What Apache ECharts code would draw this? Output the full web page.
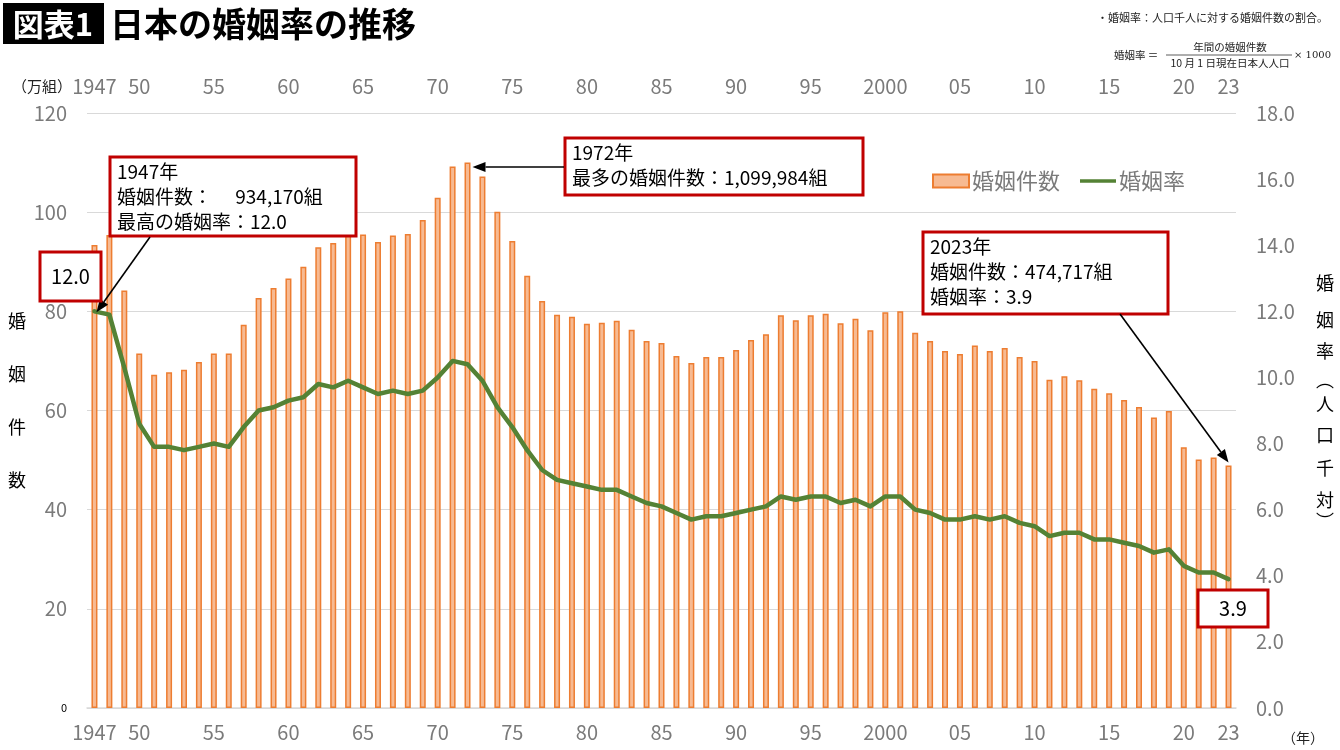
<!DOCTYPE html>
<html><head><meta charset="utf-8">
<script src="https://cdn.jsdelivr.net/npm/echarts@6.0.0/dist/echarts.min.js"></script>
<style>html,body{margin:0;padding:0;background:#fff}#c{width:1340px;height:750px}</style>
</head><body><div id="c"></div>
<script>
const years = ['1947','1948','1949','1950','1951','1952','1953','1954','1955','1956','1957','1958','1959',
'1960','1961','1962','1963','1964','1965','1966','1967','1968','1969',
'1970','1971','1972','1973','1974','1975','1976','1977','1978','1979',
'1980','1981','1982','1983','1984','1985','1986','1987','1988','1989',
'1990','1991','1992','1993','1994','1995','1996','1997','1998','1999',
'2000','2001','2002','2003','2004','2005','2006','2007','2008','2009',
'2010','2011','2012','2013','2014','2015','2016','2017','2018','2019',
'2020','2021','2022','2023'];
// 婚姻件数（万組）
const marriages = [93.4,95.4,84.2,71.5,67.2,67.7,68.2,69.8,71.5,71.5,77.3,82.7,84.7,
86.6,89.0,92.9,93.8,96.3,95.5,94.0,95.3,95.6,98.4,
102.9,109.2,110.0,107.2,100.1,94.2,87.2,82.1,79.3,78.9,
77.5,77.7,78.1,76.3,74.0,73.6,71.0,69.6,70.8,70.8,
72.2,74.2,75.4,79.2,78.2,79.2,79.5,77.6,78.5,76.2,
79.8,80.0,75.7,74.0,72.0,71.4,73.1,72.0,72.6,70.8,
70.0,66.2,66.9,66.1,64.4,63.5,62.1,60.7,58.6,59.9,
52.6,50.1,50.5,48.9];
// 婚姻率（人口千対）
const rates = [12.0,11.9,10.3,8.6,7.9,7.9,7.8,7.9,8.0,7.9,8.5,9.0,9.1,
9.3,9.4,9.8,9.7,9.9,9.7,9.5,9.6,9.5,9.6,
10.0,10.5,10.4,9.9,9.1,8.5,7.8,7.2,6.9,6.8,
6.7,6.6,6.6,6.4,6.2,6.1,5.9,5.7,5.8,5.8,
5.9,6.0,6.1,6.4,6.3,6.4,6.4,6.2,6.3,6.1,
6.4,6.4,6.0,5.9,5.7,5.7,5.8,5.7,5.8,5.6,
5.5,5.2,5.3,5.3,5.1,5.1,5.0,4.9,4.7,4.8,
4.3,4.1,4.1,3.9];
const tickYears = ['1947','1950','1955','1960','1965','1970','1975','1980','1985','1990','1995','2000','2005','2010','2015','2020','2023'];
const tickLabels = ['1947','50','55','60','65','70','75','80','85','90','95','2000','05','10','15','20','23'];
const leftTicks = [0,20,40,60,80,100,120];
const rightTicks = [0,2,4,6,8,10,12,14,16,18];

const FONT = '"Noto Sans CJK JP", "Noto Sans", sans-serif';
const GREY = '#7a7a7a';

const xLabel = {
  interval: (i, v) => tickYears.includes(v),
  formatter: v => tickLabels[tickYears.indexOf(v)],
  color: GREY, fontSize: 20, fontFamily: FONT
};

const option = {
  animation: false,
  backgroundColor: '#fff',
  textStyle: {fontFamily: FONT},
  grid: {left: 87, right: 104, top: 113, bottom: 42},
  legend: {
    left: 927, top: 165, itemGap: 20, itemWidth: 36, itemHeight: 13,
    textStyle: {color: GREY, fontSize: 22, fontFamily: FONT, padding: [0,0,0,-2]},
    data: [
      {name: '婚姻件数', icon: 'rect'},
      {name: '婚姻率', icon: 'path://M0,0L0,0M0,4.6H40V8.4H0ZM40,13L40,13',
       itemStyle: {color: '#548235', borderWidth: 0}}
    ]
  },
  xAxis: [
    {type: 'category', data: years, position: 'bottom',
     axisTick: {show: false},
     axisLine: {lineStyle: {color: '#D9D9D9', width: 1.5}},
     axisLabel: Object.assign({margin: 14}, xLabel)},
    {type: 'category', data: years, position: 'top',
     axisTick: {show: false}, axisLine: {show: false},
     axisLabel: Object.assign({margin: 17}, xLabel)}
  ],
  yAxis: [
    {type: 'value', min: leftTicks[0], max: leftTicks[leftTicks.length-1], interval: 20,
     axisLine: {show: false}, axisTick: {show: false},
     splitLine: {lineStyle: {color: '#D9D9D9', width: 1.2}},
     axisLabel: {margin: 20, color: GREY, fontSize: 20, fontFamily: FONT,
       formatter: v => v === 0 ? '{s|0}' : String(v),
       rich: {s: {fontSize: 11, color: '#000', fontFamily: FONT}}}},
    {type: 'value', min: rightTicks[0], max: rightTicks[rightTicks.length-1], interval: 2,
     position: 'right', splitLine: {show: false},
     axisLine: {show: false}, axisTick: {show: false},
     axisLabel: {margin: 20, color: GREY, fontSize: 20, fontFamily: FONT,
       formatter: v => v.toFixed(1)}}
  ],
  series: [
    {name: '婚姻件数', type: 'bar', xAxisIndex: 0, yAxisIndex: 0, data: marriages,
     barWidth: 6,
     itemStyle: {color: '#F7BA92', borderColor: '#ED7D31', borderWidth: 1.5}},
    {name: '婚姻率', type: 'line', xAxisIndex: 0, yAxisIndex: 1, data: rates,
     symbol: 'none', z: 5,
     lineStyle: {color: '#548235', width: 4.5, join: 'round', cap: 'round'},
     itemStyle: {color: '#548235'}}
  ]
};

const chart = echarts.init(document.getElementById('c'));
chart.setOption(option);

function arrow(x1, y1, x2, y2) {
  const a = Math.atan2(y2 - y1, x2 - x1);
  const L = 13, W = 5;
  const bx = x2 - L * Math.cos(a), by = y2 - L * Math.sin(a);
  const px = -Math.sin(a) * W, py = Math.cos(a) * W;
  return [
    {type: 'line', z: 100, shape: {x1: x1, y1: y1, x2: bx, y2: by}, style: {stroke: '#000', lineWidth: 1.6}},
    {type: 'polygon', z: 100, shape: {points: [[x2, y2], [bx + px, by + py], [bx - px, by - py]]}, style: {fill: '#000'}}
  ];
}
function box(x, y, w, h, text, center) {
  const els = [{type: 'rect', z: 100, shape: {x: x, y: y, width: w, height: h},
    style: {fill: '#fff', stroke: '#C00000', lineWidth: 3}}];
  if (center) {
    els.push({type: 'text', z: 101, x: x + w / 2, y: y + h / 2,
      style: {text: text, fill: '#000', font: '20px ' + FONT, align: 'center', verticalAlign: 'middle'}});
  } else {
    els.push({type: 'text', z: 101, x: x + 7, y: y + 2,
      style: {text: text, fill: '#000', font: '19px ' + FONT, lineHeight: 25, verticalAlign: 'top'}});
  }
  return els;
}
function txt(x, y, s, font, fill, align, vAlign) {
  return {type: 'text', z: 100, x: x, y: y,
    style: {text: s, font: font, fill: fill || '#000', align: align || 'left', verticalAlign: vAlign || 'middle'}};
}

const pRate47 = chart.convertToPixel({seriesIndex: 1}, [years[0], rates[0]]);
const pBar72 = chart.convertToPixel({seriesIndex: 0}, ['1972', marriages[years.indexOf('1972')]]);
const pBar23 = chart.convertToPixel({seriesIndex: 0}, ['2023', marriages[years.indexOf('2023')]]);

const SERIF = '"DejaVu Serif", "Noto Sans CJK JP", serif';
const graphics = [].concat(
  // title
  [{type: 'rect', z: 100, shape: {x: 3, y: 3, width: 101, height: 41}, style: {fill: '#000'}}],
  [txt(53, 24, '図表1', 'bold 31px ' + FONT, '#fff', 'center')],
  [txt(110, 24, '日本の婚姻率の推移', 'bold 34px ' + FONT, '#000')],
  // note & formula
  [txt(1097, 18, '・婚姻率：人口千人に対する婚姻件数の割合。', '11px ' + FONT, '#222')],
  [txt(1114, 55, '婚姻率 ＝', '10.5px ' + FONT, '#222')],
  [txt(1230, 47, '年間の婚姻件数', '10.5px ' + FONT, '#222', 'center')],
  [{type: 'line', z: 100, shape: {x1: 1166, y1: 55, x2: 1292, y2: 55}, style: {stroke: '#333', lineWidth: 0.8}}],
  [txt(1230, 63, '10 月 1 日現在日本人人口', '10.5px ' + FONT, '#222', 'center')],
  [txt(1294, 55, '× 1000', '10px ' + SERIF, '#222')],
  // axis units
  [txt(12, 86, '（万組）', '15px ' + FONT, '#222')],
  [txt(1282, 738, '（年）', '14px ' + FONT, '#222')],
  // left axis name (vertical)
  [{type: 'text', z: 100, x: 17, y: 295, style: {text: '婚\n姻\n件\n数', font: '18px ' + FONT, fill: '#000', align: 'center', verticalAlign: 'top', lineHeight: 53}}],
  // right axis name (vertical)
  [['婚', 283], ['姻', 320], ['率', 351], ['︵', 380], ['人', 404], ['口', 435], ['千', 468], ['対', 500], ['︶', 521]]
    .map(c => txt(1325, c[1], c[0], '18px ' + FONT, '#000', 'center')),
  // annotations
  box(110, 157, 246, 79, '1947年\n婚姻件数：　 934,170組\n最高の婚姻率：12.0'),
  arrow(150, 237, pRate47[0] + 2, pRate47[1] + 1),
  box(40, 252, 61, 49, '12.0', true),
  box(565, 138, 298, 57, '1972年\n最多の婚姻件数：1,099,984組'),
  arrow(564, 167, pBar72[0] + 5, 167),
  box(923, 232, 245, 82, '2023年\n婚姻件数：474,717組\n婚姻率：3.9'),
  arrow(1120, 314, pBar23[0], pBar23[1] - 3),
  box(1198, 590, 70, 37, '3.9', true)
);
chart.setOption({graphic: graphics});
</script>
</body></html>
